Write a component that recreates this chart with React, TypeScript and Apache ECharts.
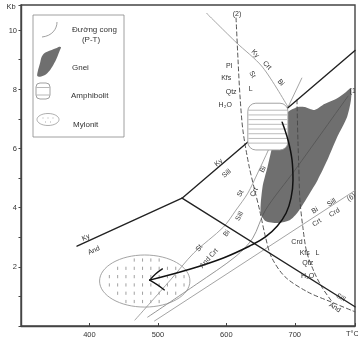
import React, { useEffect, useRef } from "react";
import * as echarts from "echarts";

type Pt = [number, number];

const xTickLabels = [400, 500, 600, 700];
const yTickLabels = [2, 4, 6, 8, 10];

// Al2SiO5 boundaries (T °C, P kb)
const kyAnd: Pt[] = [[381.8, 2.7], [535.3, 4.32]];
const kySill: Pt[] = [[535.3, 4.32], [788, 9.31]];
const andSill: Pt[] = [[535.3, 4.32], [788, 0.65]];

// staurolite reaction (gray)
const stUpper: Pt[] = [[571.2, 10.57], [614.2, 9.59], [652.9, 8.75], [690.2, 7.4]];
const stLower: Pt[] = [[690.2, 7.4], [661.5, 5.95], [645.8, 5.17], [631.4, 4.49], [614.2, 3.92], [595.6, 3.34], [552.5, 2.47], [518.1, 1.55], [466.4, 0.2]];
const invBranch: Pt[] = [[690.2, 7.4], [710.3, 8.38]];
// Bi Sill / Crt Crd (6)
const biSillCrd: Pt[] = [[495.1, 0.17], [788, 4.58]];
// curve (1)
const curve1: Pt[] = [[777.8, 7.77], [700.3, 5.27], [657.2, 3.92], [638.6, 2.97], [614.2, 2.36], [556.8, 1.42], [485.1, 0.3]];
// melting curve (2), dashed
const melt2: Pt[] = [[614.2, 10.41], [617.1, 8.99], [619.9, 7.8], [624.2, 6.62], [632.9, 5.44], [641.5, 4.59], [648.6, 3.92], [657.2, 3.01], [665.9, 2.33], [685.9, 1.66], [718.9, 1.15], [753.4, 0.81], [788, 0.48]];
// Crd melting curve, dashed
const meltCrd: Pt[] = [[703.2, 7.64], [704.6, 6.28], [706.0, 5.27], [707.5, 4.26], [711.8, 3.34], [717.5, 2.5], [729.0, 1.79], [740.5, 1.28], [754.8, 0.81]];
// P-T path
const ptPath: Pt[] = [[681.6, 6.89], [690.2, 6.28], [696.0, 5.61], [697.4, 4.93], [694.5, 4.32], [687.4, 3.82], [674.5, 3.38], [657.2, 3.01], [637.2, 2.74], [595.6, 2.3], [542.5, 1.89], [488.0, 1.55]];
const arrowUpper: Pt[] = [[506.6, 1.93], [496.6, 1.76], [488.0, 1.55]];
const arrowLower: Pt[] = [[488.0, 1.55], [499.4, 1.39], [509.5, 1.22]];

// gneiss field
const gneissOutline: Pt[] = [[690.2, 7.23], [704.6, 7.4], [714.6, 7.4], [729.0, 7.3], [743.3, 7.5], [762.0, 7.7], [774.9, 7.91], [782.1, 8.04], [782.1, 7.64], [776.3, 7.06], [762.0, 6.39], [747.6, 5.61], [733.3, 4.93], [717.5, 4.32], [704.6, 3.85], [693.1, 3.58], [675.9, 3.48], [657.2, 3.55], [650.1, 3.82], [652.9, 4.7], [660.1, 5.37], [668.7, 6.18], [678.8, 6.72]];
// amphibolite box [Tmin, Pmax, Tmax, Pmin]
const amphibolite = [631.4, 7.53, 690.0, 5.95];
// mylonite ellipse [Tc, Pc, halfT, halfP]
const mylonite = [480.8, 1.52, 66, 0.88];

// annotations: [text, T, P, rotation°]
const annotations: [string, number, number, number][] = [
  ["(2)", 615.6, 10.57, 0],
  ["Ky", 642.9, 9.22, -45],
  ["Crt", 660.1, 8.82, -45],
  ["Bi", 680.2, 8.24, -50],
  ["Pl", 604.2, 8.82, 0],
  ["Kfs", 599.9, 8.41, 0],
  ["Qtz", 607.0, 7.91, 0],
  ["H₂O", 598.4, 7.47, 0],
  ["St", 638.6, 8.51, -60],
  ["L", 635.7, 8.04, 0],
  ["Ky", 588.4, 5.54, 40],
  ["Sill", 599.9, 5.17, 40],
  ["St", 619.9, 4.49, 62],
  ["Sill", 618.5, 3.72, 62],
  ["Crt", 640.0, 4.53, 62],
  ["Bi", 652.9, 5.3, 62],
  ["St", 559.7, 2.64, 52],
  ["And Crt", 574.0, 2.3, 48],
  ["Bi", 599.9, 3.14, 55],
  ["Bi", 729.0, 3.92, 32],
  ["Sill", 753.4, 4.19, 32],
  ["(6)", 782.1, 4.36, 32],
  ["Crt", 731.9, 3.51, 32],
  ["Crd", 757.7, 3.85, 32],
  ["Crd", 703.2, 2.84, 0],
  ["Kfs", 714.6, 2.5, 0],
  ["L", 733.3, 2.5, 0],
  ["Qtz", 718.9, 2.13, 0],
  ["H₂O", 718.9, 1.72, 0],
  ["Sill", 767.7, 0.98, -32],
  ["And", 759.1, 0.64, -32],
  ["Ky", 394.7, 3.01, 24],
  ["And", 406.2, 2.57, 24],
  ["(1)", 786.4, 7.97, 0],
];

const FONT = "Liberation Sans, Arial, sans-serif";
const GRAY = "#9a9a9a";
const DARK = "#222";
const DASH = "#555";

function line(data: Pt[], color: string, width: number, z: number, opts: any = {}) {
  return {
    type: "line",
    data,
    symbol: "none",
    showSymbol: false,
    silent: true,
    z,
    smooth: opts.smooth ?? false,
    lineStyle: { color, width, type: opts.dash ? [4, 3] : "solid", cap: "round", join: "round" },
  };
}

export default function App() {
  const ref = useRef<HTMLDivElement>(null);
  useEffect(() => {
    const chart = echarts.init(ref.current!, undefined, { renderer: "svg" });
    const option: any = {
      animation: false,
      grid: { left: 21, top: 5, right: -3, bottom: 16, show: true, borderColor: "#444", borderWidth: 1.4, backgroundColor: "transparent" },
      xAxis: {
        type: "value", min: 300, max: 788, interval: 100,
        axisLine: { show: true, lineStyle: { color: "#444", width: 1.4 } },
        axisTick: { show: true, inside: true, length: 3, lineStyle: { color: "#444" } },
        axisLabel: { formatter: (v: number) => (xTickLabels.includes(v) ? String(v) : ""), fontSize: 7.5, color: "#333", margin: 4, fontFamily: FONT },
        splitLine: { show: false },
      },
      yAxis: {
        type: "value", min: 0, max: 10.85, interval: 1,
        axisLine: { show: true, lineStyle: { color: "#444", width: 1.4 } },
        axisTick: { show: true, inside: false, length: 2.5, lineStyle: { color: "#444" } },
        axisLabel: { formatter: (v: number) => (yTickLabels.includes(v) ? String(v) : ""), fontSize: 7.5, color: "#333", margin: 4, fontFamily: FONT },
        splitLine: { show: false },
      },
      series: [
        {
          type: "custom", z: 1, silent: true, data: [mylonite],
          renderItem: (params: any, api: any) => {
            const c = api.coord([api.value(0), api.value(1)]);
            const s = api.size([api.value(2), api.value(3)]);
            const rx = s[0], ry = s[1];
            const children: any[] = [{ type: "ellipse", shape: { cx: c[0], cy: c[1], rx, ry }, style: { fill: "#fff", stroke: GRAY, lineWidth: 0.9 } }];
            for (let dy = -21; dy < ry - 2; dy += 8.3) {
              for (let dx = -43.7; dx < rx - 2; dx += 8.3) {
                const q = (dx * dx) / (rx * rx) + (dy * dy) / (ry * ry);
                if (q < 0.82) children.push({ type: "line", shape: { x1: c[0] + dx, y1: c[1] + dy - 1.6, x2: c[0] + dx, y2: c[1] + dy + 1.6 }, style: { stroke: "#777", lineWidth: 0.7 } });
              }
            }
            return { type: "group", children };
          },
        },
        line(stUpper, GRAY, 0.9, 2, { smooth: 0.3 }),
        line(stLower, GRAY, 0.9, 2, { smooth: 0.3 }),
        line(invBranch, GRAY, 0.9, 2),
        line(biSillCrd, GRAY, 0.9, 2),
        line(curve1, "#8a8a8a", 0.9, 2, { smooth: 0.3 }),
        line(melt2, DASH, 1, 2, { smooth: 0.3, dash: true }),
        line(meltCrd, DASH, 1, 2, { smooth: 0.3, dash: true }),
        line(kyAnd, DARK, 1.4, 3),
        line(kySill, DARK, 1.4, 3),
        line(andSill, DARK, 1.4, 3),
        {
          type: "custom", z: 4, silent: true, data: [gneissOutline[0]],
          renderItem: (params: any, api: any) => ({
            type: "polygon",
            shape: { points: gneissOutline.map((p) => api.coord(p)), smooth: 0.25 },
            style: { fill: "rgba(70,70,70,0.78)", stroke: "none" },
          }),
        },
        {
          type: "custom", z: 5, silent: true, data: [amphibolite],
          renderItem: (params: any, api: any) => {
            const p0 = api.coord([api.value(0), api.value(1)]);
            const p1 = api.coord([api.value(2), api.value(3)]);
            const x = p0[0], y = p0[1], w = p1[0] - p0[0], h = p1[1] - p0[1], r = 8;
            const children: any[] = [{ type: "rect", shape: { x, y, width: w, height: h, r }, style: { fill: "#fff", stroke: "#999", lineWidth: 0.9 } }];
            for (let yy = y + 7; yy < y + h - 4; yy += 4.7) {
              const d = Math.min(yy - y, y + h - yy);
              const inset = d < r ? r - Math.sqrt(r * r - (r - d) * (r - d)) : 0;
              children.push({ type: "line", shape: { x1: x + inset + 0.6, y1: yy, x2: x + w - inset - 0.6, y2: yy }, style: { stroke: "#aaa", lineWidth: 0.8 } });
            }
            return { type: "group", children };
          },
        },
        line(ptPath, "#111", 1.5, 6, { smooth: 0.4 }),
        line(arrowUpper, "#111", 1.3, 6, { smooth: 0.4 }),
        line(arrowLower, "#111", 1.3, 6, { smooth: 0.4 }),
        {
          type: "custom", z: 7, silent: true, clip: true,
          data: annotations.map((a) => [a[1], a[2]]),
          renderItem: (params: any, api: any) => {
            const a = annotations[params.dataIndex];
            const p = api.coord([api.value(0), api.value(1)]);
            return {
              type: "text", x: p[0], y: p[1], rotation: (a[3] * Math.PI) / 180,
              style: { text: a[0], fontSize: 7, fontFamily: FONT, fill: "#333", align: "center", verticalAlign: "middle" },
            };
          },
        },
      ],
      graphic: [
        { type: "text", x: 11, y: 6, z: 20, style: { text: "Kb", fontSize: 7.5, fontFamily: FONT, fill: "#333", align: "center", verticalAlign: "middle" } },
        { type: "text", x: 346, y: 333, z: 20, style: { text: "T°C", fontSize: 7.5, fontFamily: FONT, fill: "#333", align: "left", verticalAlign: "middle" } },
        {
          type: "group", z: 20,
          children: [
            { type: "rect", shape: { x: 33, y: 15, width: 91, height: 122 }, style: { fill: "#fff", stroke: "#888", lineWidth: 0.8 } },
            { type: "bezierCurve", shape: { x1: 42, y1: 37, cpx1: 52, cpy1: 36, cpx2: 57, cpy2: 29, x2: 57, y2: 22 }, style: { stroke: "#888", fill: null, lineWidth: 0.8 } },
            { type: "text", x: 72, y: 29, style: { text: "Đường cong", fontSize: 8, fontFamily: FONT, fill: "#333", verticalAlign: "middle" } },
            { type: "text", x: 91, y: 39, style: { text: "(P-T)", fontSize: 8, fontFamily: FONT, fill: "#333", align: "center", verticalAlign: "middle" } },
            { type: "polygon", shape: { points: [[37.3, 76], [37.7, 71.7], [40, 63.3], [41.7, 56.7], [45, 52.7], [51.7, 50], [56, 48.3], [59.3, 46.7], [61, 47.3], [59.3, 51.7], [56.7, 58.3], [53.3, 65], [49.3, 71], [45, 75], [40, 76.7]], smooth: 0.3 }, style: { fill: "#6f6f6f" } },
            { type: "text", x: 72, y: 67, style: { text: "Gnei", fontSize: 8, fontFamily: FONT, fill: "#333", verticalAlign: "middle" } },
            { type: "rect", shape: { x: 36, y: 83, width: 14, height: 16, r: 4 }, style: { fill: "#fff", stroke: "#888", lineWidth: 0.8 } },
            { type: "line", shape: { x1: 36.5, y1: 87.5, x2: 49.5, y2: 87.5 }, style: { stroke: "#999", lineWidth: 0.7 } },
            { type: "line", shape: { x1: 36.5, y1: 95, x2: 49.5, y2: 95 }, style: { stroke: "#999", lineWidth: 0.7 } },
            { type: "text", x: 71, y: 95, style: { text: "Amphibolit", fontSize: 8, fontFamily: FONT, fill: "#333", verticalAlign: "middle" } },
            { type: "ellipse", shape: { cx: 48, cy: 119.5, rx: 11, ry: 6 }, style: { fill: "#fff", stroke: "#999", lineWidth: 0.8 } },
            { type: "line", shape: { x1: 43, y1: 117, x2: 43, y2: 119 }, style: { stroke: "#bbb", lineWidth: 0.6 } },
            { type: "line", shape: { x1: 48, y1: 117, x2: 48, y2: 119 }, style: { stroke: "#bbb", lineWidth: 0.6 } },
            { type: "line", shape: { x1: 53, y1: 117, x2: 53, y2: 119 }, style: { stroke: "#bbb", lineWidth: 0.6 } },
            { type: "line", shape: { x1: 45.5, y1: 121, x2: 45.5, y2: 123 }, style: { stroke: "#bbb", lineWidth: 0.6 } },
            { type: "line", shape: { x1: 50.5, y1: 121, x2: 50.5, y2: 123 }, style: { stroke: "#bbb", lineWidth: 0.6 } },
            { type: "text", x: 73, y: 124, style: { text: "Mylonit", fontSize: 8, fontFamily: FONT, fill: "#333", verticalAlign: "middle" } },
          ],
        },
      ],
    };
    chart.setOption(option);
    return () => chart.dispose();
  }, []);
  return <div ref={ref} style={{ position: "fixed", left: 0, top: 0, width: 358, height: 342 }} />;
}
